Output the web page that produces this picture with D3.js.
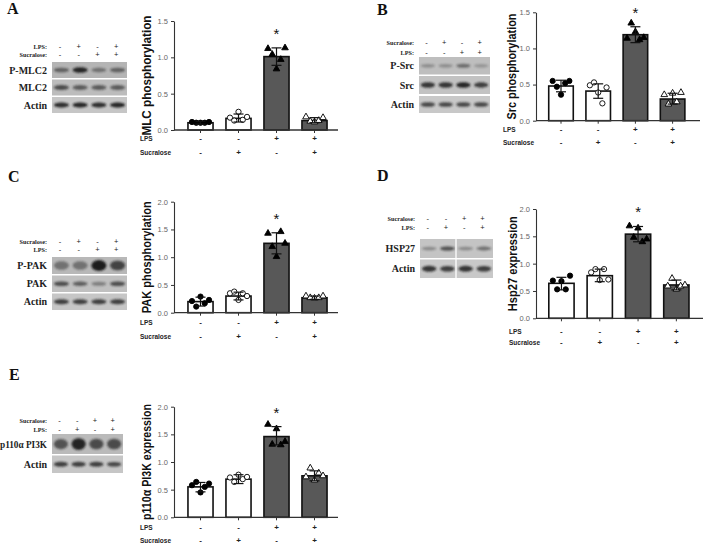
<!DOCTYPE html>
<html><head><meta charset="utf-8">
<script src="https://cdn.jsdelivr.net/npm/d3@7"></script>
<style>body{margin:0;background:#fff}svg{display:block}</style>
</head><body>
<svg id="fig" width="703" height="547"></svg>
<script>
// ---------------- data ----------------
const groups = ["Control", "Sucralose", "LPS", "LPS+Sucralose"];
const lpsSigns = ["-", "-", "+", "+"];
const sucraloseSigns = ["-", "+", "-", "+"];
const significant = [false, false, true, false];
const ticks15 = [0, 0.5, 1.0, 1.5];
const ticks20 = [0, 0.5, 1.0, 1.5, 2.0];

const mlcMean = [0.10, 0.16, 1.01, 0.13];
const mlcHi = [0.12, 0.22, 1.13, 0.17];
const mlcLo = [0.08, 0.11, 0.89, 0.10];
const mlcPoints = [[0.11, 0.10, 0.10, 0.10, 0.11], [0.17, 0.13, 0.25, 0.14, 0.18], [1.12, 1.04, 0.84, 0.97, 1.13], [0.18, 0.12, 0.11, 0.13, 0.17]];

const srcMean = [0.48, 0.41, 1.19, 0.30];
const srcHi = [0.56, 0.51, 1.30, 0.38];
const srcLo = [0.40, 0.31, 1.08, 0.23];
const srcPoints = [[0.55, 0.47, 0.36, 0.52, 0.55], [0.49, 0.53, 0.39, 0.24, 0.46], [1.14, 1.35, 1.23, 1.12, 1.15], [0.36, 0.23, 0.38, 0.26, 0.39]];

const pakMean = [0.20, 0.30, 1.25, 0.27];
const pakHi = [0.28, 0.37, 1.44, 0.30];
const pakLo = [0.12, 0.23, 1.06, 0.24];
const pakPoints = [[0.21, 0.11, 0.29, 0.17, 0.23], [0.35, 0.38, 0.23, 0.35, 0.30], [1.43, 1.19, 1.01, 1.46, 1.25], [0.30, 0.27, 0.26, 0.27, 0.30]];

const hspMean = [0.64, 0.78, 1.54, 0.61];
const hspHi = [0.75, 0.90, 1.68, 0.70];
const hspLo = [0.52, 0.67, 1.40, 0.52];
const hspPoints = [[0.69, 0.53, 0.68, 0.53, 0.78], [0.84, 0.90, 0.70, 0.90, 0.71], [1.69, 1.48, 1.65, 1.40, 1.45], [0.59, 0.73, 0.53, 0.59, 0.61]];

const pi3kMean = [0.55, 0.69, 1.46, 0.75];
const pi3kHi = [0.63, 0.77, 1.64, 0.84];
const pi3kLo = [0.46, 0.61, 1.31, 0.66];
const pi3kPoints = [[0.58, 0.64, 0.45, 0.55, 0.61], [0.72, 0.64, 0.77, 0.69, 0.73], [1.68, 1.32, 1.60, 1.31, 1.37], [0.73, 0.89, 0.67, 0.80, 0.75]];

// western blot band intensities (0..1) per row, per lane
const blotA_rows = ["P-MLC2", "MLC2", "Actin"];
const blotA_bands = [[0.55, 0.95, 0.45, 0.55], [0.7, 0.6, 0.6, 0.6], [0.9, 0.95, 0.9, 0.95]];
const blotB_rows = ["P-Src", "Src", "Actin"];
const blotB_bands = [[0.3, 0.3, 0.5, 0.25], [0.85, 0.85, 0.95, 0.8], [0.75, 0.75, 0.75, 0.75]];
const blotC_rows = ["P-PAK", "PAK", "Actin"];
const blotC_bands = [[0.45, 0.45, 1.0, 0.75], [0.7, 0.6, 0.4, 0.7], [0.8, 0.8, 0.8, 0.8]];
const blotD_rows = ["HSP27", "Actin"];
const blotD_bands = [[0.35, 0.7, 0.35, 0.5], [0.85, 0.8, 0.85, 0.8]];
const blotE_rows = ["p110\u03b1 PI3K", "Actin"];
const blotE_bands = [[0.65, 0.95, 0.7, 0.7], [0.8, 0.8, 0.8, 0.75]];

const blotSignsA = [["LPS:", ["-", "+", "-", "+"]], ["Sucralose:", ["-", "-", "+", "+"]]];
const blotSignsB = [["Sucralose:", ["-", "+", "-", "+"]], ["LPS:", ["-", "-", "+", "+"]]];
const blotSignsC = [["Sucralose:", ["-", "+", "-", "+"]], ["LPS:", ["-", "-", "+", "+"]]];
const blotSignsD = [["Sucralose:", ["-", "-", "+", "+"]], ["LPS:", ["-", "+", "-", "+"]]];
const blotSignsE = [["Sucralose:", ["-", "-", "+", "+"]], ["LPS:", ["-", "+", "-", "+"]]];

// ---------------- drawing ----------------
const svg = d3.select("#fig");
svg.append("rect").attr("width", 703).attr("height", 547).attr("fill", "#fff");
const defs = svg.append("defs");
defs.append("filter").attr("id", "blur").attr("x", "-50%").attr("y", "-100%").attr("width", "200%").attr("height", "300%")
  .append("feGaussianBlur").attr("stdDeviation", 1.1);

const SANS = "'Liberation Sans', Arial, sans-serif";
const SERIF = "'Liberation Serif', 'Times New Roman', serif";
const jitter = [-0.34, -0.17, 0, 0.17, 0.34];
const fills = ["#fff", "#fff", "#585858", "#585858"];
const markerFill = ["#000", "#fff", "#000", "#fff"];
const markerShape = [d3.symbolCircle, d3.symbolCircle, d3.symbolTriangle, d3.symbolTriangle];

function chart(cfg) {
  const g = svg.append("g");
  const x = d3.scaleBand().domain(groups).range(cfg.xr).paddingInner(0.34).paddingOuter(0.17);
  const y = d3.scaleLinear().domain([0, cfg.ymax]).range([cfg.y0, cfg.y1]);
  const bw = x.bandwidth();

  // bars
  g.selectAll("rect.bar").data(groups).join("rect")
    .attr("x", d => x(d)).attr("width", bw)
    .attr("y", (d, i) => y(cfg.mean[i])).attr("height", (d, i) => y(0) - y(cfg.mean[i]))
    .attr("fill", (d, i) => fills[i]).attr("stroke", "#111").attr("stroke-width", 1.6);

  // points
  groups.forEach((grp, i) => {
    g.selectAll(null).data(cfg.points[i]).join("path")
      .attr("d", d3.symbol().type(markerShape[i]).size(i < 2 ? 22 : 19))
      .attr("transform", (v, j) => `translate(${x(grp) + bw / 2 + jitter[j] * bw},${y(v)})`)
      .attr("fill", markerFill[i]).attr("stroke", "#000").attr("stroke-width", 0.9);
  });

  // error bars
  groups.forEach((grp, i) => {
    const cx = x(grp) + bw / 2;
    const eg = g.append("g").attr("stroke", "#111").attr("stroke-width", 1.2);
    eg.append("line").attr("x1", cx).attr("x2", cx).attr("y1", y(cfg.hi[i])).attr("y2", y(cfg.lo[i]));
    [cfg.hi[i], cfg.lo[i]].forEach(v => {
      eg.append("line").attr("x1", cx - 5).attr("x2", cx + 5).attr("y1", y(v)).attr("y2", y(v));
    });
    if (significant[i]) {
      g.append("text").attr("x", cx).attr("y", y(cfg.hi[i]) - 9).attr("text-anchor", "middle")
        .attr("font-family", SANS).attr("font-size", 15).attr("fill", "#111").text("*");
    }
  });

  // y axis
  const ya = g.append("g").attr("transform", `translate(${cfg.ax},0)`)
    .call(d3.axisLeft(y).tickValues(cfg.ticks).tickFormat(d3.format(".1f")).tickSize(3).tickSizeOuter(0).tickPadding(3));
  ya.select(".domain").attr("stroke", "#333").attr("stroke-width", 1.1);
  ya.selectAll(".tick line").attr("stroke", "#333");
  ya.selectAll("text").attr("font-family", SANS).attr("font-size", 7.5).attr("fill", "#666");

  // x axis
  const xa = g.append("g").attr("transform", `translate(0,${y(0)})`)
    .call(d3.axisBottom(x).tickSize(3).tickFormat(""));
  xa.select(".domain").remove();
  xa.selectAll(".tick line").attr("stroke", "#333");
  g.append("line").attr("x1", cfg.ax).attr("x2", cfg.xEnd).attr("y1", y(0)).attr("y2", y(0))
    .attr("stroke", "#333").attr("stroke-width", 1.3);

  // condition rows
  [["LPS", lpsSigns, cfg.lpsY], ["Sucralose", sucraloseSigns, cfg.sucY]].forEach(([lab, signs, ry]) => {
    g.append("text").attr("x", cfg.labX).attr("y", ry).attr("dominant-baseline", "central")
      .attr("font-family", SANS).attr("font-weight", "bold").attr("font-size", 6.5).attr("fill", "#222").text(lab);
    g.selectAll(null).data(groups).join("text")
      .attr("x", d => x(d) + bw / 2).attr("y", ry).attr("dominant-baseline", "central").attr("text-anchor", "middle")
      .attr("font-family", SANS).attr("font-weight", "bold").attr("font-size", 8).attr("fill", "#222")
      .text((d, i) => signs[i]);
  });

  // y title
  g.append("text").attr("transform", `translate(${cfg.titleX},${(cfg.y0 + cfg.y1) / 2}) rotate(-90)`)
    .attr("text-anchor", "middle").attr("dominant-baseline", "central")
    .attr("font-family", SANS).attr("font-weight", "bold").attr("font-size", 12).attr("fill", "#111")
    .attr("textLength", cfg.titleLen).attr("lengthAdjust", "spacingAndGlyphs")
    .text(cfg.title);
}

function blot(cfg) {
  const g = svg.append("g");
  const lanes = d3.scaleBand().domain(d3.range(4)).range([cfg.x0, cfg.x1]);
  const lw = lanes.bandwidth();
  cfg.rows.forEach((lab, r) => {
    const [t, b] = cfg.rowY[r];
    g.append("rect").attr("x", cfg.x0).attr("y", t).attr("width", cfg.x1 - cfg.x0).attr("height", b - t)
      .attr("fill", cfg.bg[r]);
    g.selectAll(null).data(cfg.bands[r]).join("ellipse")
      .attr("cx", (v, k) => lanes(k) + lw / 2).attr("cy", (t + b) / 2)
      .attr("rx", lw * 0.4).attr("ry", (v) => cfg.ry[r] * (0.7 + 0.5 * v))
      .attr("fill", "#1a1a1a").attr("opacity", v => v).attr("filter", "url(#blur)");
    const t0 = g.append("text").attr("y", (t + b) / 2).attr("dominant-baseline", "central")
      .attr("font-family", SERIF).attr("font-weight", "bold").attr("font-size", 10).attr("fill", "#222").text(lab);
    if (cfg.fitLeft && r === 0) {
      t0.attr("x", 0).attr("text-anchor", "start").attr("textLength", cfg.labX).attr("lengthAdjust", "spacingAndGlyphs");
    } else {
      t0.attr("x", cfg.labX).attr("text-anchor", "end");
    }
  });
  if (cfg.divider) {
    g.append("line").attr("x1", cfg.divider).attr("x2", cfg.divider)
      .attr("y1", cfg.rowY[0][0]).attr("y2", cfg.rowY[cfg.rowY.length - 1][1])
      .attr("stroke", "#fff").attr("stroke-width", 1.3);
  }
  cfg.signs.forEach(([lab, s], r) => {
    const yy = cfg.signY[r];
    g.append("text").attr("x", cfg.labX).attr("y", yy).attr("text-anchor", "end").attr("dominant-baseline", "central")
      .attr("font-family", SERIF).attr("font-weight", "bold").attr("font-size", 6.2).attr("fill", "#222").text(lab);
    g.selectAll(null).data(s).join("text")
      .attr("x", (d, k) => lanes(k) + lw / 2 - 1.5).attr("y", yy).attr("text-anchor", "middle").attr("dominant-baseline", "central")
      .attr("font-family", SANS).attr("font-size", 7.5).attr("fill", "#222").text(d => d);
  });
}

function letter(t, x, y) {
  svg.append("text").attr("x", x).attr("y", y).attr("font-family", SERIF).attr("font-weight", "bold")
    .attr("font-size", 16).attr("fill", "#111").text(t);
}

// Panel letters
letter("A", 7, 14);
letter("B", 377, 15);
letter("C", 8, 182);
letter("D", 377, 181);
letter("E", 9, 380);

// Blots
blot({ x0: 52, x1: 127, rows: blotA_rows, bands: blotA_bands, rowY: [[62, 78], [79.5, 95.5], [97, 113]],
  bg: ["#b4b4b4", "#bcbcbc", "#c6c6c6"], ry: [2.4, 2.4, 2.2], labX: 47, signs: blotSignsA, signY: [46, 54.5] });
blot({ x0: 419, x1: 490, rows: blotB_rows, bands: blotB_bands, rowY: [[57, 74.5], [76, 94], [96, 113]],
  bg: ["#bebebe", "#c2c2c2", "#c8c8c8"], ry: [2.2, 2.4, 2.2], labX: 414, signs: blotSignsB, signY: [42, 52] });
blot({ x0: 52, x1: 127, rows: blotC_rows, bands: blotC_bands, rowY: [[257, 274], [275.5, 292], [293.5, 310]],
  bg: ["#b8b8b8", "#c0c0c0", "#c6c6c6"], ry: [4.5, 2.2, 2.2], labX: 47, signs: blotSignsC, signY: [241, 249.5] });
blot({ x0: 420, x1: 493, rows: blotD_rows, bands: blotD_bands, rowY: [[239, 258], [259.5, 278]],
  bg: ["#c4c4c4", "#c8c8c8"], ry: [2.0, 2.6], labX: 415, signs: blotSignsD, signY: [218, 227], divider: 456 });
blot({ x0: 52, x1: 123, rows: blotE_rows, bands: blotE_bands, rowY: [[434, 454], [455.5, 473]],
  bg: ["#bababa", "#c6c6c6"], ry: [5, 2.2], labX: 47, signs: blotSignsE, signY: [420, 429], fitLeft: true });

// Charts
chart({ xr: [181.5, 333.5], ax: 174, xEnd: 338, ymax: 1.5, ticks: ticks15, y0: 130, y1: 21,
  mean: mlcMean, hi: mlcHi, lo: mlcLo, points: mlcPoints, lpsY: 138, sucY: 152, labX: 140, titleX: 147,
  title: "MLC phosphorylation", titleLen: 120 });
chart({ xr: [542.4, 691.2], ax: 536, xEnd: 700, ymax: 1.5, ticks: ticks15, y0: 120.7, y1: 12.3,
  mean: srcMean, hi: srcHi, lo: srcLo, points: srcPoints, lpsY: 129, sucY: 142, labX: 503, titleX: 512,
  title: "Src phosphorylation", titleLen: 106 });
chart({ xr: [181.5, 333.5], ax: 174, xEnd: 338, ymax: 2.0, ticks: ticks20, y0: 312.7, y1: 201.7,
  mean: pakMean, hi: pakHi, lo: pakLo, points: pakPoints, lpsY: 322.7, sucY: 336, labX: 140, titleX: 147,
  title: "PAK phosphorylation", titleLen: 112 });
chart({ xr: [542.3, 695.5], ax: 536, xEnd: 703, ymax: 2.0, ticks: ticks20, y0: 318.3, y1: 209,
  mean: hspMean, hi: hspHi, lo: hspLo, points: hspPoints, lpsY: 331, sucY: 342.7, labX: 509, titleX: 513,
  title: "Hsp27 expression", titleLen: 95 });
chart({ xr: [181.5, 333.5], ax: 174, xEnd: 338, ymax: 2.0, ticks: ticks20, y0: 517.3, y1: 406.7,
  mean: pi3kMean, hi: pi3kHi, lo: pi3kLo, points: pi3kPoints, lpsY: 527, sucY: 540.7, labX: 140, titleX: 147,
  title: "p110\u03b1 PI3K expression", titleLen: 116 });
</script>
</body></html>
